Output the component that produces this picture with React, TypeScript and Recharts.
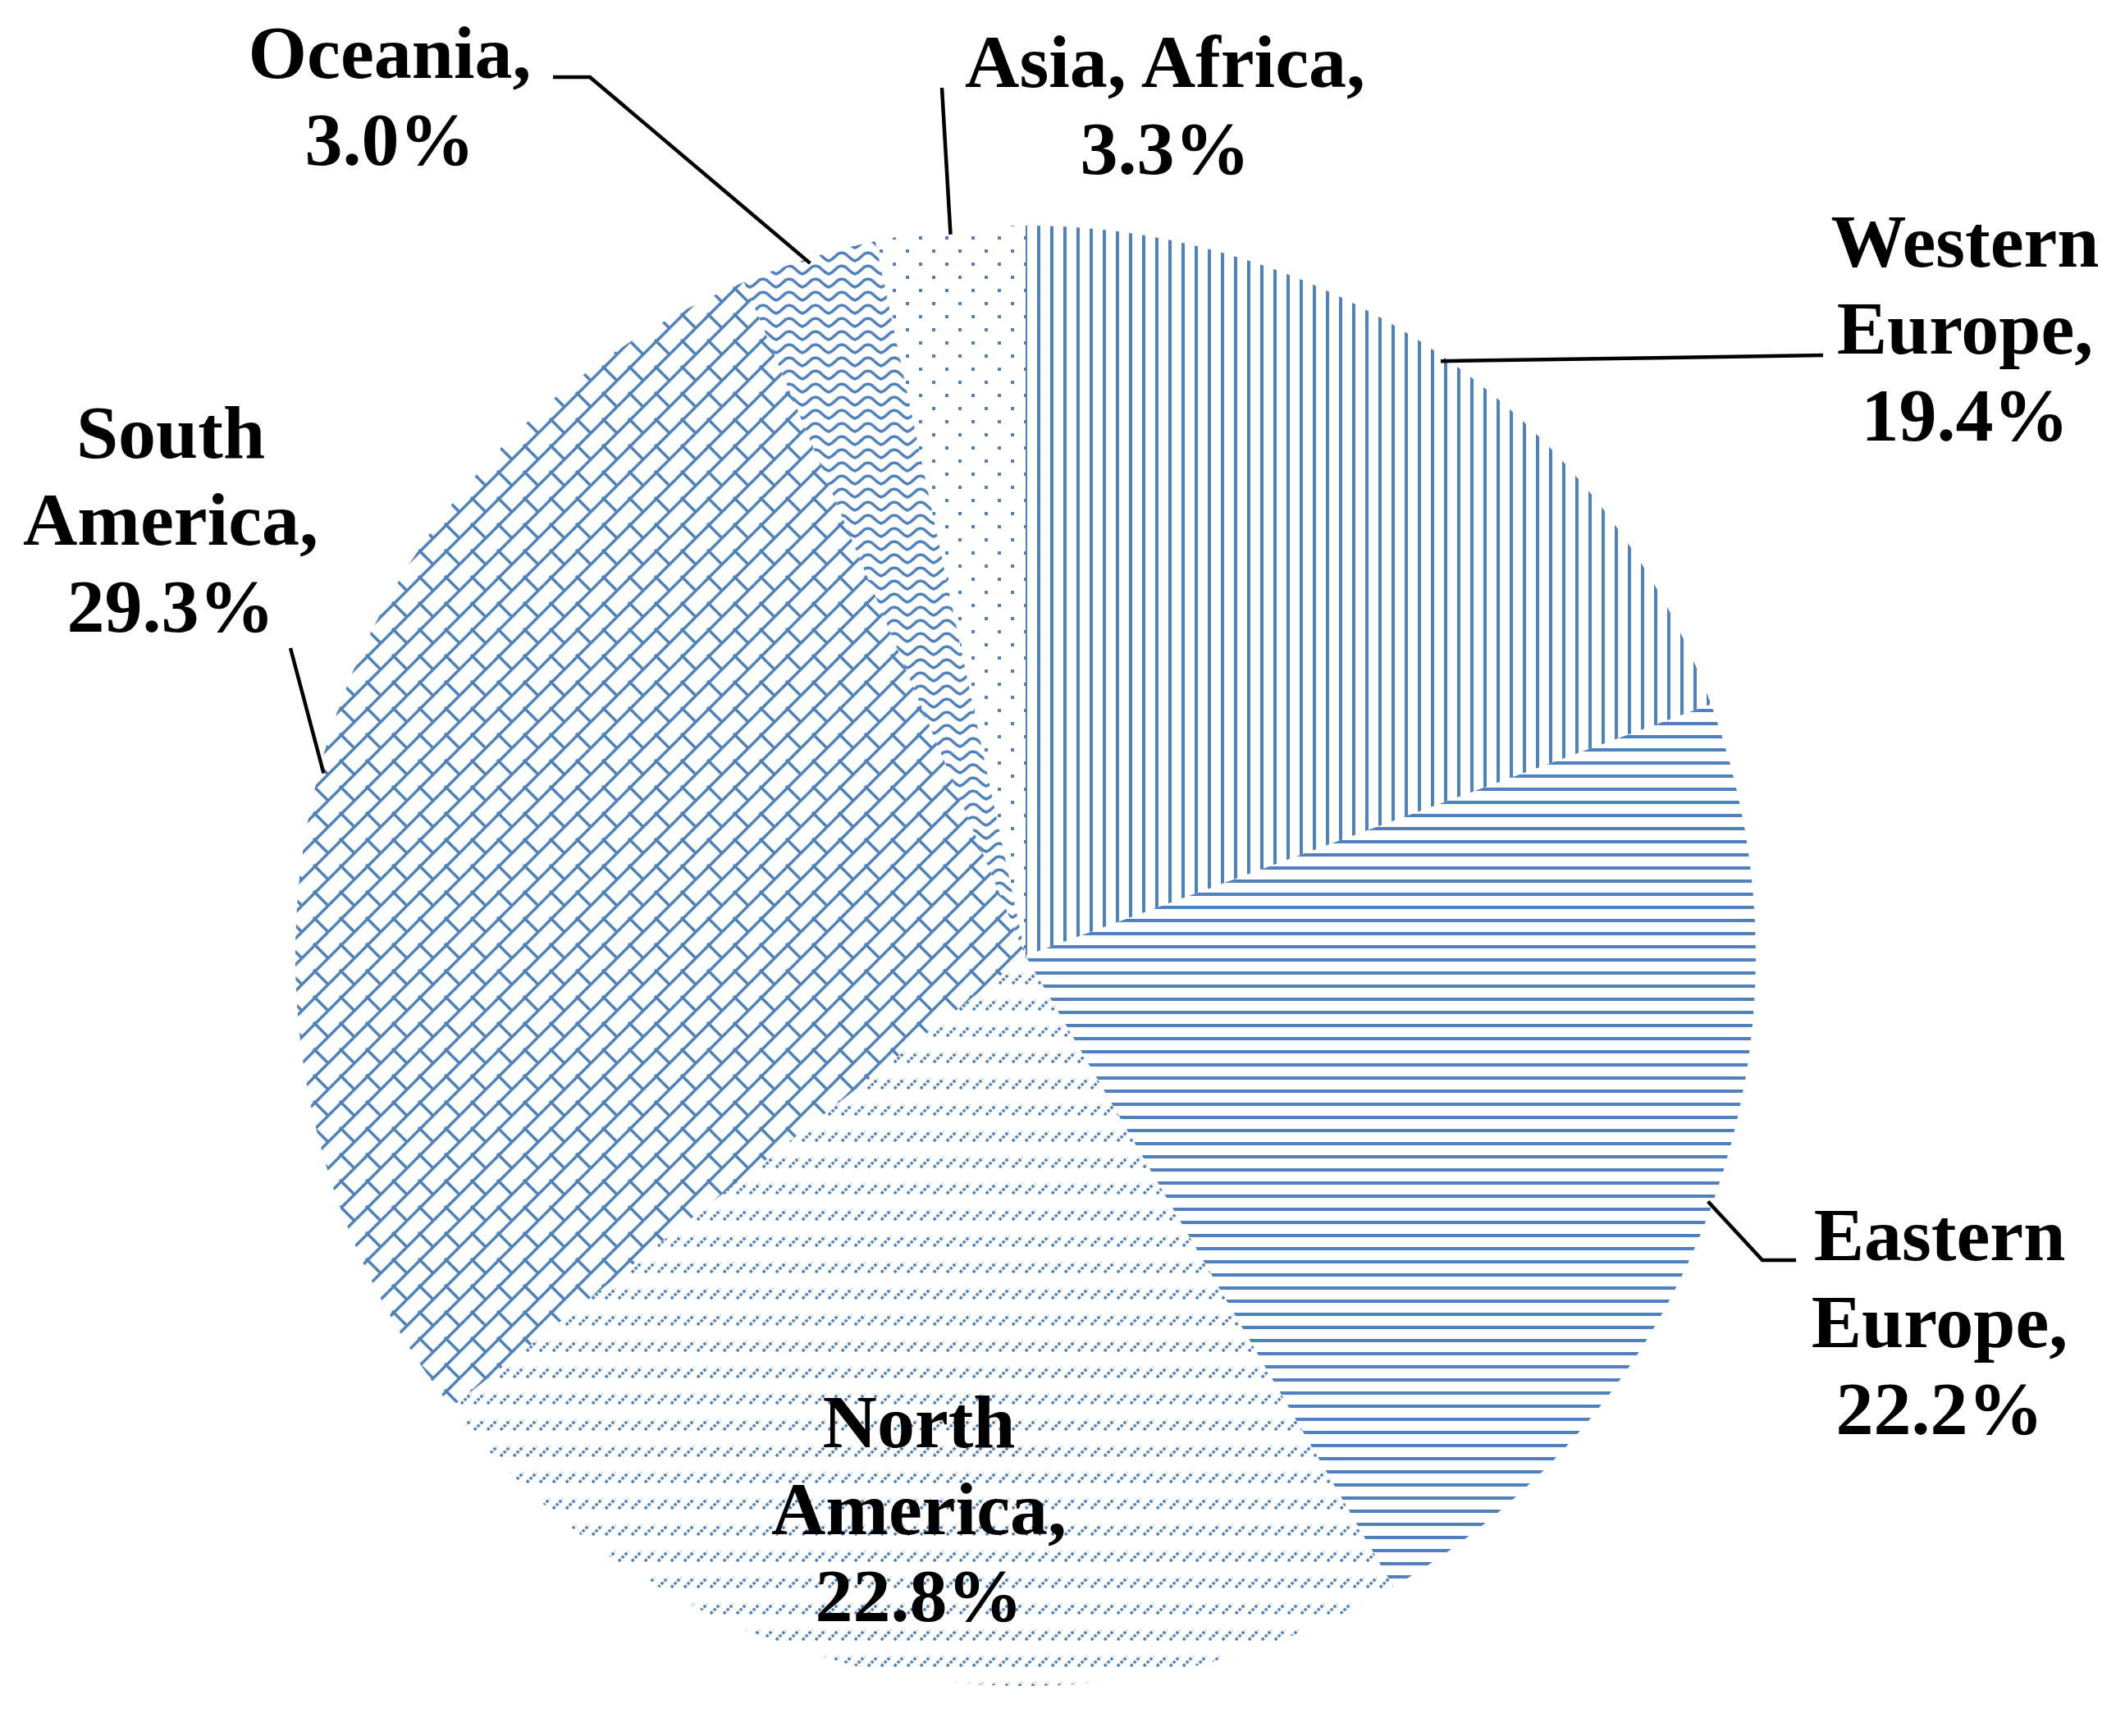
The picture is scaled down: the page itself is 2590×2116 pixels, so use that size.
import { PieChart, Pie, Cell } from 'recharts';

const categories = ['Western Europe', 'Eastern Europe', 'North America', 'South America', 'Oceania', 'Asia, Africa'];
const shares = [19.4, 22.2, 22.8, 29.3, 3.0, 3.3];
const labelLines = [
    ['Western', 'Europe,'],
    ['Eastern', 'Europe,'],
    ['North', 'America,'],
    ['South', 'America,'],
    ['Oceania,'],
    ['Asia, Africa,'],
];

const data = categories.map((name, i) => ({ name, value: shares[i] }));

const BLUE = '#4F81BD';
const patternIds = ['pVert', 'pHoriz', 'pDash', 'pBrick', 'pWave', 'pDots'];

// where each label sits (text centre, first baseline) and the bends of its leader line
const labelLayout: { x: number; y: number; bends: number[][] | null }[] = [
    { x: 2395, y: 325, bends: [[2222, 433]] },
    { x: 2364, y: 1536, bends: [[2148, 1536], [2189, 1536]] },
    { x: 1120, y: 1764, bends: null },
    { x: 208, y: 558, bends: [[354, 790]] },
    { x: 475, y: 95, bends: [[719, 94], [674, 94]] },
    { x: 1420, y: 106, bends: [[1148, 107]] },
];

const RAD = Math.PI / 180;
const FONT = "'Liberation Serif', 'Times New Roman', serif";

const renderLabel = (props: any) => {
    const { cx, cy, midAngle, outerRadius, index, value } = props;
    const lay = labelLayout[index];
    const r = outerRadius - 6;
    const px = cx + r * Math.cos(-midAngle * RAD);
    const py = cy + r * Math.sin(-midAngle * RAD);
    const lines = [...labelLines[index], `${Number(value).toFixed(1)}%`];
    return (
        <g key={`lbl-${index}`}>
            {lay.bends && (
                <polyline
                    points={[[px, py], ...lay.bends].map((p) => p.join(',')).join(' ')}
                    fill="none"
                    stroke="#000"
                    strokeWidth={4.5}
                />
            )}
            <text x={lay.x} y={lay.y} textAnchor="middle" fontFamily={FONT} fontWeight="bold" fontSize={92} fill="#000">
                {lines.map((t, i) => (
                    <tspan key={i} x={lay.x} dy={i === 0 ? 0 : 106}>{t}</tspan>
                ))}
            </text>
        </g>
    );
};

export default function App() {
    return (
        <div style={{ background: '#fff', width: 2590, height: 2116 }}>
            <style>{'body{margin:0}'}</style>
            <PieChart width={2590} height={2116}>
                <defs>
                    <pattern id="pVert" patternUnits="userSpaceOnUse" width={16} height={16}>
                        <rect x={0} y={0} width={4} height={16} fill={BLUE} />
                    </pattern>
                    <pattern id="pHoriz" patternUnits="userSpaceOnUse" width={16} height={16}>
                        <rect x={0} y={0} width={16} height={4} fill={BLUE} />
                    </pattern>
                    <pattern id="pDash" patternUnits="userSpaceOnUse" width={16} height={32}>
                        <path d="M2 15 L14 3" stroke={BLUE} strokeWidth={3.5} strokeDasharray="3.5 2" fill="none" />
                    </pattern>
                    <pattern id="pBrick" patternUnits="userSpaceOnUse" width={32} height={32}>
                        <path
                            d="M-2 34 L34 -2 M-2 2 L2 -2 M30 34 L34 30 M-2 -2 L16 16 M30 30 L34 34"
                            stroke={BLUE}
                            strokeWidth={3.5}
                            fill="none"
                        />
                    </pattern>
                    <pattern id="pWave" patternUnits="userSpaceOnUse" width={32} height={16}>
                        <path
                            d="M-10 12 L-2 5 L2 4 L6 5 L14 12 L18 14 L22 12 L30 5 L34 4 L38 5"
                            stroke={BLUE}
                            strokeWidth={3.5}
                            fill="none"
                        />
                    </pattern>
                    <pattern id="pDots" patternUnits="userSpaceOnUse" width={32} height={32}>
                        <rect x={0} y={0} width={4} height={4} fill={BLUE} />
                        <rect x={16} y={16} width={4} height={4} fill={BLUE} />
                    </pattern>
                </defs>
                <Pie
                    data={data}
                    dataKey="value"
                    nameKey="name"
                    cx={1245}
                    cy={1160}
                    outerRadius={890}
                    startAngle={90}
                    endAngle={-270}
                    stroke="none"
                    label={renderLabel}
                    labelLine={false}
                    isAnimationActive={false}
                >
                    {data.map((d, i) => (
                        <Cell key={d.name} fill={`url(#${patternIds[i]})`} stroke="none" />
                    ))}
                </Pie>
            </PieChart>
        </div>
    );
}
